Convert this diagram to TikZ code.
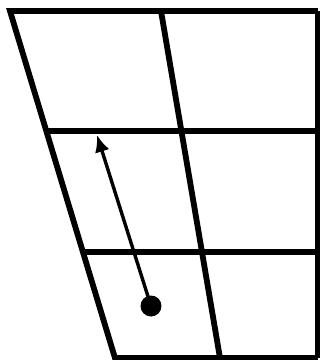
\documentclass[tikz,border=0pt]{standalone}
\usetikzlibrary{arrows.meta,calc}
\begin{document}
\begin{tikzpicture}[x=1pt,y=-1pt,
  gridline/.style={line width=5.8pt},
  motion/.style={line width=3.4pt,-{Latex[length=17pt,width=15pt]}}]
\useasboundingbox (0,0) rectangle (320,360);
\clip (0,0) rectangle (320,360);
\coordinate (tl) at (10,11);
\coordinate (bl) at (115,358);
\coordinate (tm) at (161,11);
\coordinate (bm) at (220,358);
\coordinate (tr) at (318,11);
\coordinate (br) at (318,358);
\draw[gridline,line join=miter] (tr) -- (tl) -- (bl) -- (br);
\draw[gridline] (tr) -- (br);
\draw[gridline] (tm) -- (bm);
\draw[gridline] ($(tl)!0.3458!(bl)$) -- (322,131);
\draw[gridline] ($(tl)!0.6945!(bl)$) -- (322,252);
\coordinate (dot) at (151,306);
\coordinate (tip) at (97,135);
\fill (dot) circle (10.5);
\draw[motion] (dot) -- (tip);
\end{tikzpicture}
\end{document}
